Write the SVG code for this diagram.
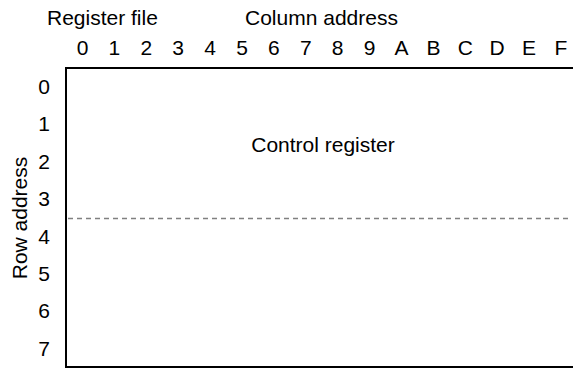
<svg xmlns="http://www.w3.org/2000/svg" width="573" height="369" viewBox="0 0 573 369">
  <style>
    text { font-family: "Liberation Sans", Arial, sans-serif; font-size: 21px; fill: #000; }
    .col { text-anchor: middle; }
    .row { text-anchor: middle; }
    .frame { fill: none; stroke: #000; stroke-width: 2; }
    .split { fill: none; stroke: #808080; stroke-width: 1.3; stroke-dasharray: 5 4; }
  </style>
  <rect width="573" height="369" fill="#fff"/>

  <!-- headings -->
  <g id="labels">
    <text x="47" y="25">Register file</text>
    <text x="245" y="25">Column address</text>
    <text transform="translate(27,218) rotate(-90)" text-anchor="middle">Row address</text>
  </g>

  <!-- column addresses 0..F -->
  <g id="columns">
    <text class="col" x="82.5" y="55">0</text>
    <text class="col" x="114.4" y="55">1</text>
    <text class="col" x="146.3" y="55">2</text>
    <text class="col" x="178.2" y="55">3</text>
    <text class="col" x="210.1" y="55">4</text>
    <text class="col" x="242" y="55">5</text>
    <text class="col" x="273.9" y="55">6</text>
    <text class="col" x="305.8" y="55">7</text>
    <text class="col" x="337.7" y="55">8</text>
    <text class="col" x="369.6" y="55">9</text>
    <text class="col" x="401.5" y="55">A</text>
    <text class="col" x="433.4" y="55">B</text>
    <text class="col" x="465.3" y="55">C</text>
    <text class="col" x="497.2" y="55">D</text>
    <text class="col" x="529.1" y="55">E</text>
    <text class="col" x="561" y="55">F</text>
  </g>

  <!-- row addresses 0..7 -->
  <g id="rows">
    <text class="row" x="44" y="94">0</text>
    <text class="row" x="44" y="131.4">1</text>
    <text class="row" x="44" y="168.8">2</text>
    <text class="row" x="44" y="206.2">3</text>
    <text class="row" x="44" y="243.6">4</text>
    <text class="row" x="44" y="281">5</text>
    <text class="row" x="44" y="318.4">6</text>
    <text class="row" x="44" y="355.8">7</text>
  </g>

  <!-- register file area -->
  <g id="register-file">
    <path class="frame" d="M573,68 H66 V367 H573"/>
    <line class="split" x1="68" y1="218.5" x2="571" y2="218.5"/>
    <text x="323" y="152" text-anchor="middle">Control register</text>
  </g>
</svg>
